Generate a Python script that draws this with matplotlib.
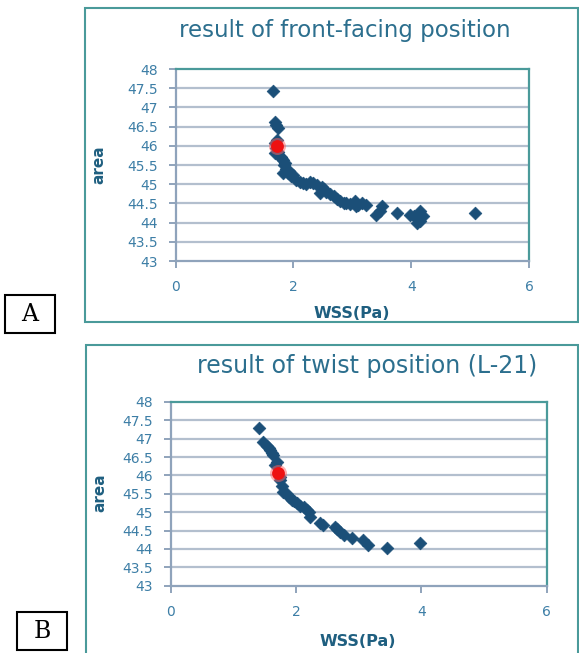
import matplotlib
matplotlib.use("Agg")
import matplotlib.pyplot as plt
from matplotlib.patches import Rectangle

# ---- data ----
a_wss = [1.66, 1.69, 1.71, 1.74, 1.72, 1.68, 1.70, 1.69, 1.74, 1.78, 1.80, 1.83, 1.86, 1.84, 1.88,
         1.91, 1.83, 1.93, 1.96, 2.00, 2.05, 2.11, 2.16, 2.22, 2.28, 2.34, 2.40, 2.48, 2.45, 2.52,
         2.56, 2.62, 2.68, 2.74, 2.79, 2.85, 2.90, 2.96, 3.04, 3.07, 3.10, 3.16, 3.24, 3.41, 3.47,
         3.50, 3.75, 3.98, 4.05, 4.09, 4.15, 4.20, 4.15, 4.12, 5.08]
a_area = [47.43, 46.63, 46.55, 46.46, 46.15, 46.08, 45.95, 45.80, 45.85, 45.72, 45.65, 45.63, 45.55,
          45.50, 45.40, 45.29, 45.29, 45.35, 45.22, 45.24, 45.12, 45.07, 45.02, 45.00, 45.07, 45.03,
          44.98, 44.94, 44.77, 44.88, 44.81, 44.74, 44.68, 44.62, 44.55, 44.52, 44.50, 44.48, 44.55,
          44.42, 44.47, 44.50, 44.46, 44.20, 44.30, 44.42, 44.26, 44.20, 44.18, 43.98, 44.29, 44.16,
          44.03, 44.10, 44.24]
a_opt_wss = [1.72]
a_opt_area = [46.0]

b_wss = [1.41, 1.48, 1.53, 1.57, 1.59, 1.61, 1.63, 1.69, 1.66, 1.74, 1.75, 1.77, 1.80, 1.85, 1.89,
         1.93, 1.97, 2.01, 2.07, 2.12, 2.17, 2.20, 2.22, 2.38, 2.43, 2.62, 2.66, 2.70, 2.76, 2.89,
         3.07, 3.15, 3.45, 3.98]
b_area = [47.30, 46.92, 46.80, 46.74, 46.69, 46.60, 46.55, 46.38, 46.28, 45.95, 45.88, 45.70, 45.56,
          45.50, 45.42, 45.33, 45.30, 45.24, 45.18, 45.15, 45.06, 45.00, 44.88, 44.70, 44.65, 44.60,
          44.54, 44.47, 44.38, 44.29, 44.24, 44.11, 44.02, 44.15]
b_opt_wss = [1.72]
b_opt_area = [46.06]

x_ticks = [0, 2, 4, 6]
y_ticks = [43, 43.5, 44, 44.5, 45, 45.5, 46, 46.5, 47, 47.5, 48]
y_ticklabels = ["43", "43.5", "44", "44.5", "45", "45.5", "46", "46.5", "47", "47.5", "48"]
titles = ["result of front-facing position", "result of twist position (L-21)"]
panel_labels = ["A", "B"]
x_label = "WSS(Pa)"
y_label = "area"

# ---- style ----
TEAL = "#4a9a9a"
AXGRAY = "#8fa3bb"
GRID = "#b3bfce"
MARK = "#1b4f78"
TICKC = "#3d7ea6"
TITLEC = "#2c6f8e"
LABELC = "#1f5f80"

fig = plt.figure(figsize=(5.79, 6.53), dpi=100)
fig.patch.set_facecolor("white")

# outer chart frames
fig.add_artist(Rectangle((0.1468, 0.5069), 0.8515, 0.4809, transform=fig.transFigure,
                         fill=False, edgecolor=TEAL, linewidth=1.5))
fig.add_artist(Rectangle((0.1485, -0.02), 0.8500, 0.4917, transform=fig.transFigure,
                         fill=False, edgecolor=TEAL, linewidth=1.5))

# panel label boxes
for (l, b), lab in zip([(0.0086, 0.490), (0.0294, 0.0046)], panel_labels):
    fig.add_artist(Rectangle((l, b), 0.0864, 0.0582, transform=fig.transFigure,
                             fill=False, edgecolor="black", linewidth=1.5))
    fig.text(l + 0.0432, b + 0.029, lab, ha="center", va="center",
             fontsize=17, family="DejaVu Serif", color="black")

axes_pos = [[0.3035, 0.6003, 0.6101, 0.2940], [0.2948, 0.1031, 0.6494, 0.2813]]
data = [(a_wss, a_area, a_opt_wss, a_opt_area), (b_wss, b_area, b_opt_wss, b_opt_area)]
title_pos = [(345 / 579, 1 - 30 / 653), (367 / 579, 1 - 366 / 653)]
title_size = [16.5, 17]
xlabel_pos = [(352 / 579, 1 - 313 / 653), (358 / 579, 1 - 642 / 653)]
ylabel_pos = [(99 / 579, 1 - 165 / 653), (100 / 579, 1 - 493 / 653)]

for i in range(2):
    ax = fig.add_axes(axes_pos[i])
    xs, ys, ox, oy = data[i]
    ax.set_xlim(0, 6)
    ax.set_ylim(43, 48)
    ax.set_yticks(y_ticks)
    ax.set_yticklabels(y_ticklabels)
    ax.set_xticks(x_ticks)
    for y in y_ticks[1:-1]:
        ax.axhline(y, color=GRID, linewidth=1.6, zorder=1)
    ax.scatter(xs, ys, marker="D", s=42, color=MARK, edgecolors=MARK, linewidths=0.5, zorder=3)
    ax.scatter(ox, oy, marker="o", s=150, color="#ff6060", alpha=0.5, linewidths=0, zorder=4)
    ax.scatter(ox, oy, marker="o", s=85, color="#ee1111", linewidths=0, zorder=5)
    ax.spines["left"].set_color(AXGRAY)
    ax.spines["bottom"].set_color(AXGRAY)
    ax.spines["top"].set_color(TEAL)
    ax.spines["right"].set_color(TEAL)
    for s in ax.spines.values():
        s.set_linewidth(1.6)
    ax.tick_params(axis="both", colors=AXGRAY, labelcolor=TICKC, labelsize=10,
                   length=5, width=1.4, direction="out")
    ax.tick_params(axis="x", pad=9)
    ax.tick_params(axis="y", pad=8)
    fig.text(*title_pos[i], titles[i], ha="center", va="center", fontsize=title_size[i],
             color=TITLEC)
    fig.text(*xlabel_pos[i], x_label, ha="center", va="center", fontsize=11.5,
             fontweight="bold", color=LABELC)
    fig.text(*ylabel_pos[i], y_label, ha="center", va="center", fontsize=11,
             fontweight="bold", color=LABELC, rotation=90)

fig.savefig("out.png", dpi=100, facecolor="white")
